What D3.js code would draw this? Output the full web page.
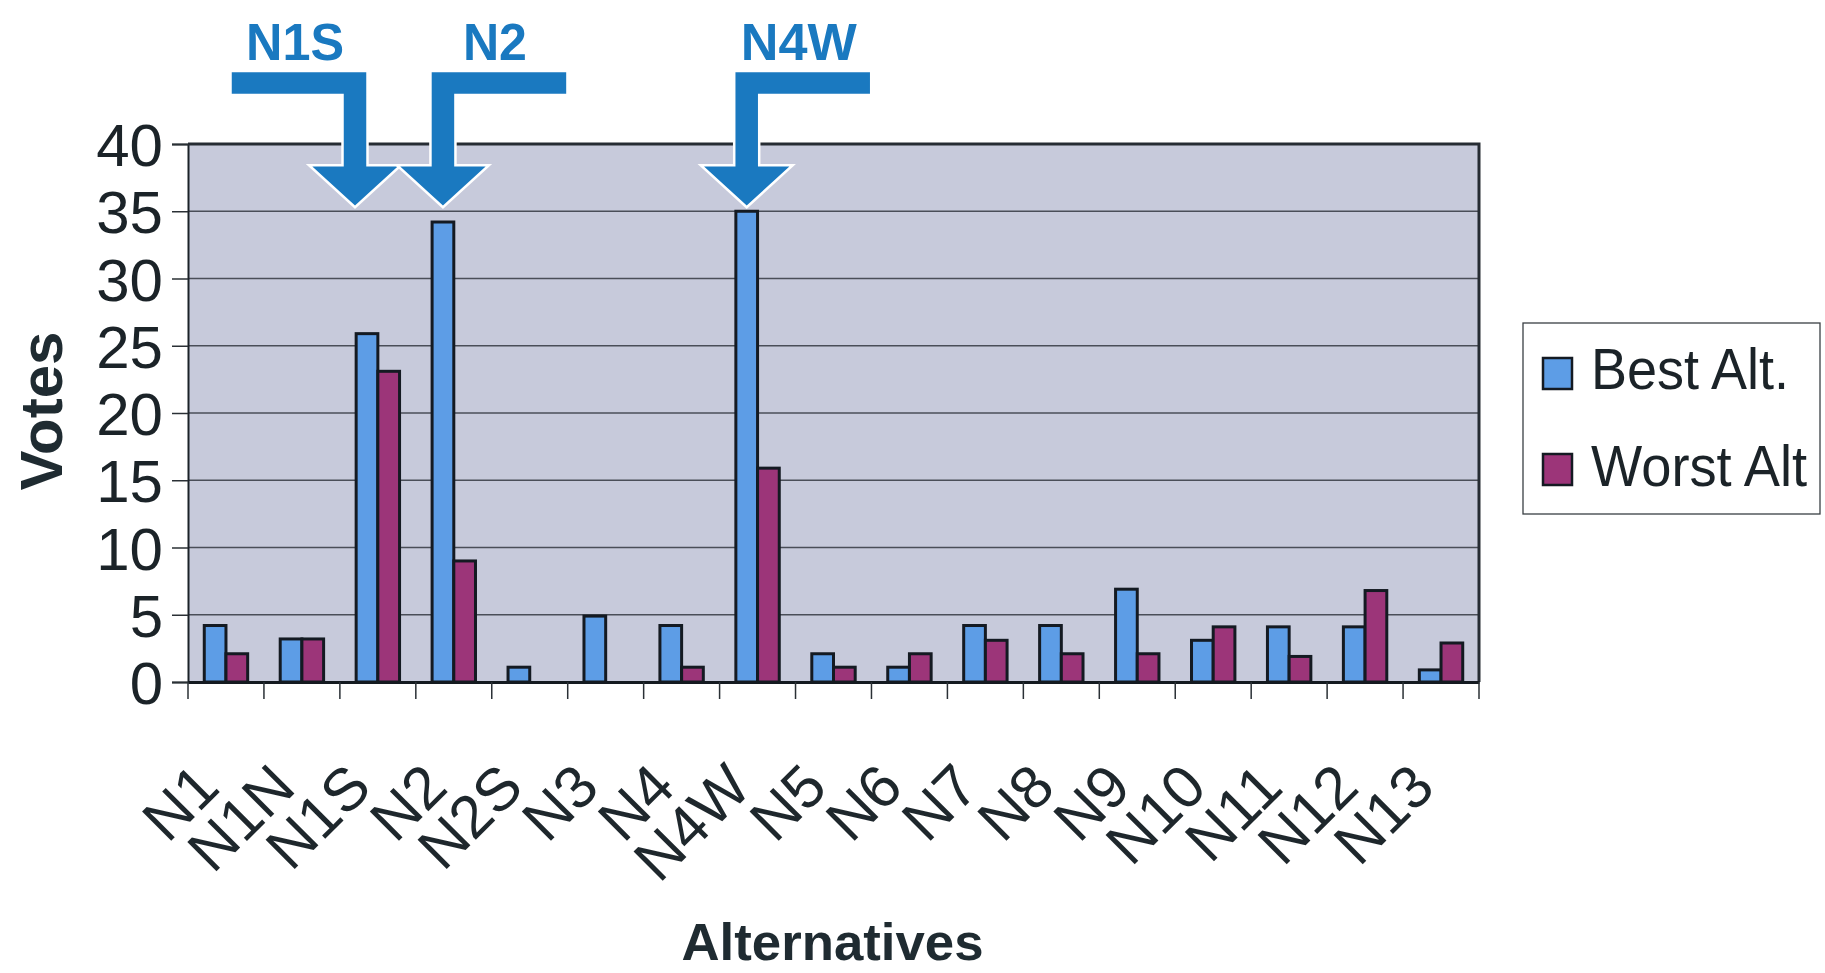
<!DOCTYPE html>
<html><head><meta charset="utf-8">
<script src="https://cdn.jsdelivr.net/npm/d3@7"></script>
<style>body{margin:0;background:#fff}svg{display:block}</style>
</head><body><svg id="c" width="1825" height="973"></svg>
<script>
const categories = ["N1","N1N","N1S","N2","N2S","N3","N4","N4W","N5","N6","N7","N8","N9","N10","N11","N12","N13"];
const bestAlt  = [4.2, 3.2, 25.9, 34.2, 1.1, 4.9, 4.2, 35.0, 2.1, 1.1, 4.2, 4.2, 6.9, 3.1, 4.1, 4.1, 0.9];
const worstAlt = [2.1, 3.2, 23.1, 9.0, 0, 0, 1.1, 15.9, 1.1, 2.1, 3.1, 2.1, 2.1, 4.1, 1.9, 6.8, 2.9];
const seriesNames = ["Best Alt.", "Worst Alt"];
const yTicks = [0, 5, 10, 15, 20, 25, 30, 35, 40];
const highlighted = ["N1S", "N2", "N4W"];
const highlightDir = ["left", "right", "right"];
const highlightShift = [-12, 0, 0];

const colors = ["#5d9de6", "#9c3579"];
const svg = d3.select("#c");
const m = {l: 188, r: 1479, t: 144, b: 682};
const FONT = "Liberation Sans, Arial, sans-serif";

const x0 = d3.scaleBand().domain(categories).range([m.l, m.r]).padding(0);
const bw = x0.bandwidth() / 3.5;
const x1 = d3.scaleBand().domain(seriesNames).range([0.75 * bw, 2.75 * bw]).padding(0);
const y = d3.scaleLinear().domain([0, 40]).range([m.b, m.t]);

// plot background
svg.append("rect").attr("x", m.l).attr("y", m.t).attr("width", m.r - m.l).attr("height", m.b - m.t)
  .attr("fill", "#c7cadb");

// gridlines
svg.append("g").selectAll("line").data(yTicks.filter(d => d > 0 && d < 40)).join("line")
  .attr("x1", m.l).attr("x2", m.r).attr("y1", d => y(d)).attr("y2", d => y(d))
  .attr("stroke", "#4a4e58").attr("stroke-width", 1.6);

// y axis
const yAxis = d3.axisLeft(y).tickValues(yTicks).tickSize(16).tickPadding(9);
const gy = svg.append("g").attr("transform", `translate(${m.l},0)`).call(yAxis);
gy.select(".domain").attr("stroke", "#1b2228").attr("stroke-width", 2);
gy.selectAll(".tick line").attr("stroke", "#2a3035").attr("stroke-width", 1.5);
gy.selectAll(".tick text").attr("font-family", FONT)
  .attr("font-size", 60).attr("fill", "#1b2328").attr("dy", "0.36em");

// bars
const series = [bestAlt, worstAlt];
const g = svg.append("g");
categories.forEach((c, i) => {
  series.forEach((vals, s) => {
    g.append("rect")
      .attr("x", x0(c) + x1(seriesNames[s]))
      .attr("y", y(vals[i]))
      .attr("width", x1.bandwidth())
      .attr("height", y(0) - y(vals[i]))
      .attr("fill", colors[s])
      .attr("stroke", "#141a22").attr("stroke-width", 3);
  });
});

// plot border (top/right)
svg.append("path").attr("d", `M${m.l},${m.t}H${m.r}V${m.b}`).attr("fill", "none")
  .attr("stroke", "#262c33").attr("stroke-width", 3);

// x axis
const xAxis = d3.axisBottom(x0).tickSize(0).tickFormat("");
const gx = svg.append("g").attr("transform", `translate(0,${m.b})`).call(xAxis);
gx.select(".domain").attr("stroke", "#141a20").attr("stroke-width", 3);
const bounds = categories.map(c => x0(c)).concat([m.r]);
svg.append("g").selectAll("line").data(bounds).join("line")
  .attr("x1", d => d).attr("x2", d => d).attr("y1", m.b).attr("y2", m.b + 17)
  .attr("stroke", "#2a3035").attr("stroke-width", 1.5);

// x labels
svg.append("g").selectAll("text").data(categories).join("text")
  .attr("transform", d => `translate(${x0(d) + x0.bandwidth() / 2 - 4},${m.b + 108}) rotate(-45)`)
  .attr("text-anchor", "end")
  .attr("font-family", FONT).attr("font-size", 60)
  .attr("fill", "#1e272c").text(d => d);

// axis titles
svg.append("text").attr("transform", `translate(62,${(m.t + m.b) / 2 - 2}) rotate(-90)`)
  .attr("text-anchor", "middle").attr("font-family", FONT)
  .attr("font-weight", "bold").attr("font-size", 60).attr("fill", "#1f2b31").text("Votes");
svg.append("text").attr("x", (m.l + m.r) / 2 - 1).attr("y", 960)
  .attr("text-anchor", "middle").attr("font-family", FONT)
  .attr("font-weight", "bold").attr("font-size", 52).attr("fill", "#1f2b31")
  .attr("textLength", 302).attr("lengthAdjust", "spacingAndGlyphs").text("Alternatives");

// legend
const lg = svg.append("g");
lg.append("rect").attr("x", 1523).attr("y", 323).attr("width", 297).attr("height", 191)
  .attr("fill", "#fff").attr("stroke", "#3a3f44").attr("stroke-width", 1.3);
seriesNames.forEach((n, i) => {
  lg.append("rect").attr("x", 1543).attr("y", 358 + i * 96).attr("width", 29).attr("height", 31)
    .attr("fill", colors[i]).attr("stroke", "#141a22").attr("stroke-width", 2.5);
  lg.append("text").attr("x", 1591).attr("y", 389 + i * 97)
    .attr("font-family", FONT).attr("font-size", 58)
    .attr("fill", "#1b2328").attr("textLength", i === 0 ? 198 : 216)
    .attr("lengthAdjust", "spacingAndGlyphs").text(n);
});

// highlight arrows
const arrowColor = "#1a79c0";
const ag = svg.append("g");
const labelWidths = {"N1S": 98, "N2": 64, "N4W": 116};
highlighted.forEach((c, k) => {
  const cx = x0(c) + x1(seriesNames[0]) + x1.bandwidth() / 2 + highlightShift[k];
  const ty = y(bestAlt[categories.indexOf("N4W")]) - 4;
  const s = 12.5, h = 46, hh = 42, barY = 71, bt = 24, L = 137;
  const dir = highlightDir[k] === "right" ? 1 : -1;
  const pts = [
    [cx - dir * s, barY], [cx - dir * s + dir * L, barY], [cx - dir * s + dir * L, barY + bt],
    [cx + dir * s, barY + bt], [cx + dir * s, ty - hh], [cx + dir * h, ty - hh], [cx, ty],
    [cx - dir * h, ty - hh], [cx - dir * s, ty - hh]
  ];
  ag.append("path").attr("d", d3.line()(pts) + "Z").attr("fill", arrowColor)
    .attr("stroke", "#fff").attr("stroke-width", 2.5).attr("stroke-linejoin", "miter");
  const barCenter = cx - dir * s + dir * L / 2;
  ag.append("text").attr("x", barCenter - 4).attr("y", 60).attr("text-anchor", "middle")
    .attr("font-family", FONT).attr("font-weight", "bold")
    .attr("font-size", 52).attr("fill", arrowColor)
    .attr("textLength", labelWidths[c]).attr("lengthAdjust", "spacingAndGlyphs").text(c);
});
</script></body></html>
